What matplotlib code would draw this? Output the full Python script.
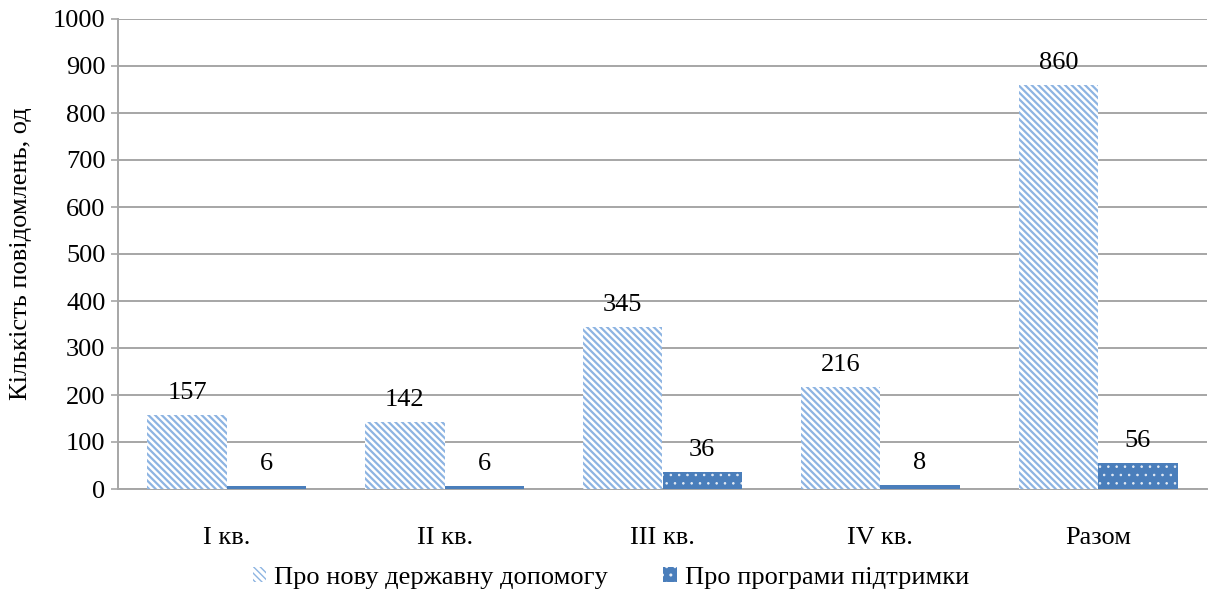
#! /usr/bin/env python3
'''
Кількість повідомлень по кварталах: grouped bars with hatch fills.
'''

import numpy as np
import matplotlib
matplotlib.use('Agg')
import matplotlib.pyplot as plt
from matplotlib.colors import to_rgba
from matplotlib.patches import Patch

categories = ['I кв.', 'II кв.', 'III кв.', 'IV кв.', 'Разом']
new_aid = [157, 142, 345, 216, 860]
programs = [6, 6, 36, 8, 56]
series_names = ['Про нову державну допомогу', 'Про програми підтримки']

ylabel = 'Кількість повідомлень, од'

plt.rcParams['font.family'] = ['Liberation Serif', 'DejaVu Serif']

light = '#8DB4E2'
blue = '#4A7EBB'
grid = '#A6A6A6'
fs = 19

hatch1 = '\\\\\\\\\\'
hatch2 = '..'


def style(patch, hatch_color, hatch_lw):
    patch._hatch_color = to_rgba(hatch_color)
    if hasattr(patch, 'set_hatch_linewidth'):
        patch.set_hatch_linewidth(hatch_lw)


fig = plt.figure(figsize=(12.17, 5.92), dpi=100)
ax = fig.add_axes([118 / 1217, 1 - 489 / 592, (1207 - 118) / 1217, (489 - 19) / 592])

x = np.arange(len(categories))
w = 0.365

with plt.rc_context({'hatch.linewidth': 1.6}):
    b1 = ax.bar(x - w / 2, new_aid, w, facecolor='white', edgecolor=light,
                hatch=hatch1, linewidth=0, zorder=3)
with plt.rc_context({'hatch.linewidth': 0.6}):
    b2 = ax.bar(x + w / 2, programs, w, facecolor=blue, edgecolor='white',
                hatch=hatch2, linewidth=0, zorder=3)
for bar in b1:
    style(bar, light, 1.6)
for bar in b2:
    style(bar, '#E8EEF7', 0.6)

for bars, vals in ((b1, new_aid), (b2, programs)):
    for bar, v in zip(bars, vals):
        ax.annotate(str(v), (bar.get_x() + bar.get_width() / 2, v),
                    xytext=(0, 8), textcoords='offset points',
                    ha='center', va='bottom', fontsize=fs)

ax.set_xlim(-0.5, len(categories) - 0.5)
ax.set_ylim(0, 1000)
ax.set_yticks(range(0, 1001, 100))
ax.set_xticks(x)
ax.set_xticklabels(categories, fontsize=fs)
ax.tick_params(axis='y', labelsize=fs, length=5, color=grid, width=1.2, pad=4)
ax.tick_params(axis='x', length=0, pad=27)
ax.yaxis.grid(True, color=grid, linewidth=1.4, zorder=0)
ax.set_axisbelow(True)
for spine in 'right', 'top':
    ax.spines[spine].set_visible(False)
for spine in 'left', 'bottom':
    ax.spines[spine].set_color(grid)
    ax.spines[spine].set_linewidth(1.4)
ax.set_ylabel(ylabel, fontsize=fs, labelpad=15)

with plt.rc_context({'hatch.linewidth': 1.6}):
    h1 = Patch(facecolor='white', edgecolor=light, hatch=hatch1, linewidth=0)
with plt.rc_context({'hatch.linewidth': 0.6}):
    h2 = Patch(facecolor=blue, edgecolor='white', hatch=hatch2, linewidth=0)
style(h1, light, 1.6)
style(h2, '#E8EEF7', 0.6)
leg = fig.legend([h1, h2], series_names, loc='center',
                 bbox_to_anchor=(611 / 1217, 1 - 578 / 592),
                 ncol=2, frameon=False, fontsize=fs, handlelength=0.5,
                 handleheight=0.5, handletextpad=0.3, columnspacing=2.1)

fig.savefig('out.png', dpi=100)
